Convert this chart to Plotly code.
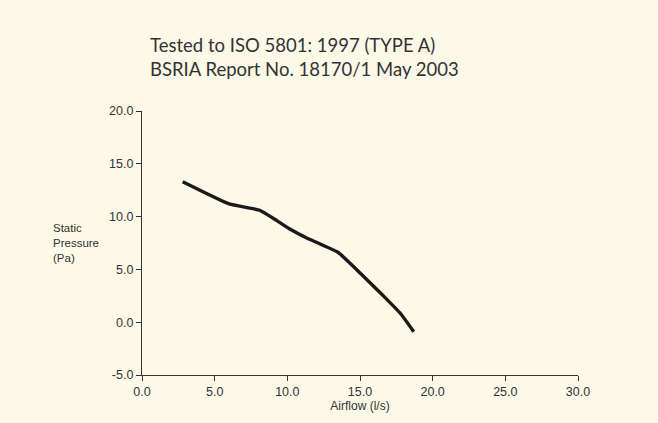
import plotly.graph_objects as go

airflow = [2.8, 6.0, 8.1, 9.3, 10.2, 11.3, 13.5, 15.2, 16.6, 17.8, 18.7]
pressure = [13.3, 11.2, 10.6, 9.6, 8.8, 8.0, 6.6, 4.4, 2.5, 0.8, -0.9]
x_ticks = [0, 5, 10, 15, 20, 25, 30]
y_ticks = [-5, 0, 5, 10, 15, 20]

bg = "#fdf9e8"
tick_font = dict(family="Liberation Sans, Arial, sans-serif", size=12.5, color="#333333")

L, T, R, B = 142, 111, 80, 48
PH = 423 - T - B
PW = 658 - L - R

fig = go.Figure()
fig.add_trace(go.Scatter(x=airflow, y=pressure, mode="lines",
                         line=dict(color="#1a1a1a", width=3.4, shape="spline", smoothing=0.4),
                         showlegend=False, hoverinfo="skip"))

fig.update_layout(
    width=658, height=423,
    paper_bgcolor=bg, plot_bgcolor=bg,
    margin=dict(l=L, r=R, t=T, b=B),
    xaxis=dict(range=[0, 30], tickvals=x_ticks, ticktext=[f"{v:.1f}" for v in x_ticks],
               showgrid=False, zeroline=False, showline=True, linecolor="#333333", linewidth=1.2,
               ticks="outside", ticklen=5, tickcolor="#333333", tickfont=tick_font,
               title=dict(text="Airflow (l/s)", font=dict(family=tick_font["family"], size=12, color="#333333"), standoff=2)),
    yaxis=dict(range=[-5, 20], tickvals=y_ticks, ticktext=[f"{v:.1f}" for v in y_ticks],
               showgrid=False, zeroline=False, showline=True, linecolor="#333333", linewidth=1.2,
               ticks="outside", ticklen=5, tickcolor="#333333", tickfont=tick_font),
    annotations=[
        dict(text="Tested to ISO 5801: 1997 (TYPE A)<br>BSRIA Report No. 18170/1 May 2003",
             xref="paper", yref="paper", x=6 / PW, y=1 + (T - 57) / PH, xanchor="left", yanchor="middle",
             align="left", showarrow=False,
             font=dict(family="Lato, Open Sans, sans-serif", size=18.5, color="#333333")),
        dict(text="Static<br>Pressure<br>(Pa)", xref="paper", yref="paper",
             x=(51 - L) / PW, y=(423 - B - 243) / PH, xanchor="left", yanchor="middle",
             align="left", showarrow=False,
             font=dict(family=tick_font["family"], size=11.5, color="#333333")),
    ],
)

fig.write_html("out.html", config={"displayModeBar": False},
               post_script="document.body.style.margin='0';document.body.style.background='#fdf9e8';")
